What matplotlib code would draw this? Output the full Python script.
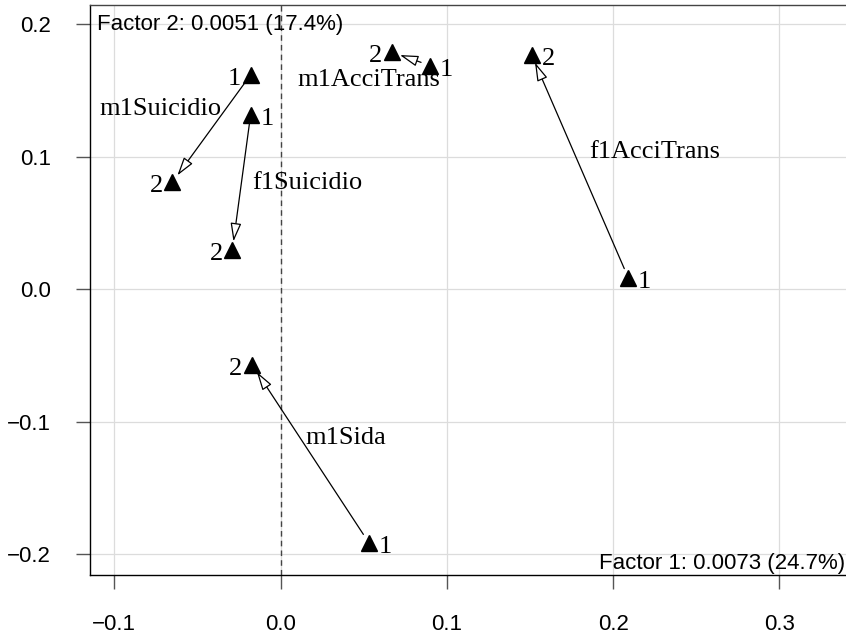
import matplotlib.pyplot as plt
from matplotlib.patches import FancyArrowPatch

# correspondence analysis map, two time points per group
names = ['m1Suicidio', 'f1Suicidio', 'm1AcciTrans', 'f1AcciTrans', 'm1Sida']
x1 = [-0.018, -0.018, 0.090, 0.209, 0.053]
y1 = [0.162, 0.132, 0.169, 0.009, -0.191]
x2 = [-0.065, -0.029, 0.067, 0.151, -0.017]
y2 = [0.081, 0.030, 0.179, 0.177, -0.057]
name_x = [-0.072, 0.016, 0.053, 0.225, 0.039]
name_y = [0.136, 0.080, 0.158, 0.104, -0.112]
side1 = ['left', 'right', 'right', 'right', 'right']
side2 = ['left', 'left', 'left', 'right', 'left']

xticks = [-0.1, 0.0, 0.1, 0.2, 0.3]
yticks = [-0.2, -0.1, 0.0, 0.1, 0.2]
factor1 = 'Factor 1: 0.0073 (24.7%)'
factor2 = 'Factor 2: 0.0051 (17.4%)'

serif = 'Liberation Serif'
sans = 'Liberation Sans'

fig = plt.figure(figsize=(8.46, 6.35), dpi=100)
ax = fig.add_axes([90 / 846, 60 / 635, 756 / 846, 570 / 635])
ax.set_xlim(-0.1146, 0.340)
ax.set_ylim(-0.2155, 0.2147)

ax.set_xticks(xticks)
ax.set_yticks(yticks)
ax.set_xticklabels([f'{v:.1f}'.replace('-', '\u2212') for v in xticks], fontfamily=sans, fontsize=16)
ax.set_yticklabels([f'{v:.1f}'.replace('-', '\u2212') for v in yticks], fontfamily=sans, fontsize=16)
ax.tick_params(direction='out', length=10, width=1, color='#555555', pad=18)
ax.grid(True, color='#dcdcdc', lw=0.9)
ax.set_axisbelow(True)
ax.spines['right'].set_visible(False)
ax.spines['top'].set_color('#444444')
for s in ['left', 'bottom', 'top']:
    ax.spines[s].set_linewidth(1.0)

ax.axvline(0, color='#444444', lw=1, ls=(0, (4, 3)), zorder=1)

for i in range(len(names)):
    arr = FancyArrowPatch((x1[i], y1[i]), (x2[i], y2[i]),
                          arrowstyle='-|>,head_length=0.75,head_width=0.22',
                          mutation_scale=15, shrinkA=7, shrinkB=6,
                          fc='white', ec='black', lw=0.9, zorder=3)
    ax.add_patch(arr)

ax.plot(x1, y1, '^', color='black', ms=11, zorder=4, ls='none')
ax.plot(x2, y2, '^', color='black', ms=11, zorder=4, ls='none')

for i in range(len(names)):
    for xs, ys, side, lab in ((x1, y1, side1, '1'), (x2, y2, side2, '2')):
        dx = -7 if side[i] == 'left' else 7
        ax.annotate(lab, (xs[i], ys[i]), xytext=(dx, -3), textcoords='offset points',
                    ha='right' if side[i] == 'left' else 'left', va='center',
                    fontfamily=serif, fontsize=19, zorder=5)
    ax.text(name_x[i], name_y[i], names[i], ha='center', va='center',
            fontfamily=serif, fontsize=19, zorder=5)

ax.text(0.009, 0.956, factor2, transform=ax.transAxes, ha='left', va='baseline',
        fontfamily=sans, fontsize=16)
ax.text(0.9987, 0.0105, factor1, transform=ax.transAxes, ha='right', va='baseline',
        fontfamily=sans, fontsize=16)

fig.savefig('out.png', dpi=100)
